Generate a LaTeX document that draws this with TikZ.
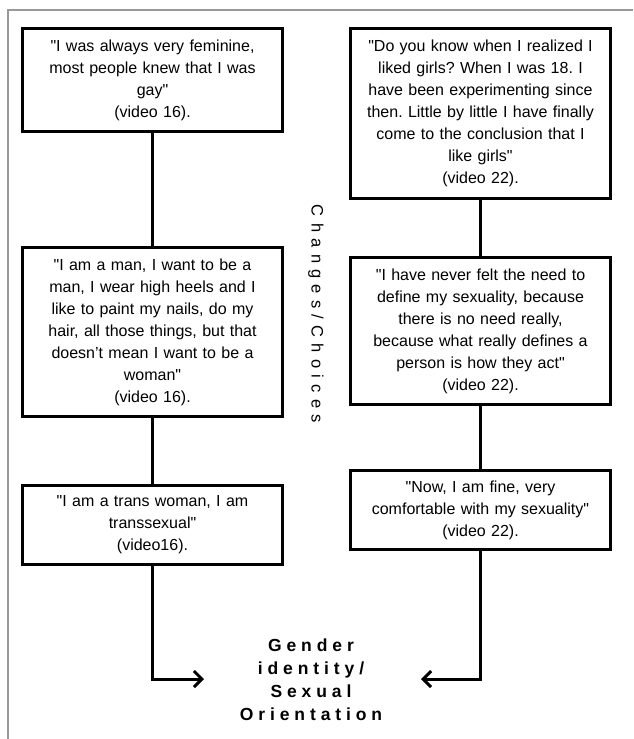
\documentclass[tikz,border=0pt]{standalone}
\usepackage{fontspec}
\setmainfont{Liberation Sans}[Ligatures=TeXOff]
\usepackage{tikz}
\usetikzlibrary{arrows.meta}
\frenchspacing

\begin{document}
\begin{tikzpicture}[x=1pt, y=-1pt,
  quote/.style={
    draw, line width=3pt, fill=white,
    align=center, text width=255pt,
    minimum width=260pt, inner sep=0pt,
    font=\fontsize{16}{22}\selectfont,
  },
  link/.style={
    line width=3pt,
  },
  spaced/.style={
    font=\fontsize{16.5}{22}\selectfont\addfontfeatures{LetterSpace=#1},
  }]
  \useasboundingbox (0,0) rectangle (633,739);
  \draw[gray!80, line width=1.2pt] (8,739) -- (8,10) -- (633,10);
  \node[quote, minimum height=103pt] (L1) at (152.5,80)
    {"I was always very feminine,\\ most people knew that I was\\ gay"\\ (video 16).};
  \node[quote, minimum height=169pt] (L2) at (152.5,332)
    {"I am a man, I want to be a\\ man, I wear high heels and I\\ like to paint my nails, do my\\ hair, all those things, but that\\ doesn’t mean I want to be a\\ woman"\\ (video 16).};
  \node[quote, minimum height=79pt] (L3) at (152.5,525)
    {"I am a trans woman, I am\\ transsexual"\\ (video16).};
  \node[quote, minimum height=170pt] (R1) at (480.5,113.5)
    {"Do you know when I realized I\\ liked girls? When I was 18. I\\ have been experimenting since\\ then. Little by little I have finally\\ come to the conclusion that I\\ like girls"\\ (video 22).};
  \node[quote, minimum height=147pt] (R2) at (480.5,331)
    {"I have never felt the need to\\ define my sexuality, because\\ there is no need really,\\ because what really defines a\\ person is how they act"\\ (video 22).};
  \node[quote, minimum height=79pt] (R3) at (480.5,510)
    {"Now, I am fine, very\\ comfortable with my sexuality"\\ (video 22).};
  \node[spaced=38, rotate=-90] (choices) at (316,314) {Changes/Choices};
  \node[align=center, font=\fontsize{17.5}{23}\selectfont\bfseries\addfontfeatures{LetterSpace=28}] (goal) at (311,680)
    {Gender\\ identity/\\ Sexual\\ Orientation};
  \foreach \a/\b in {L1/L2, L2/L3, R1/R2, R2/R3}
    \draw[link] (\a) -- (\b);
  \coordinate (tipL) at (204,679);
  \coordinate (tipR) at (421,679);
  \draw[link, -{Straight Barb[length=8pt, width=16pt]}] (L3) |- (tipL);
  \draw[link, -{Straight Barb[length=8pt, width=16pt]}] (R3) |- (tipR);
\end{tikzpicture}
\end{document}
